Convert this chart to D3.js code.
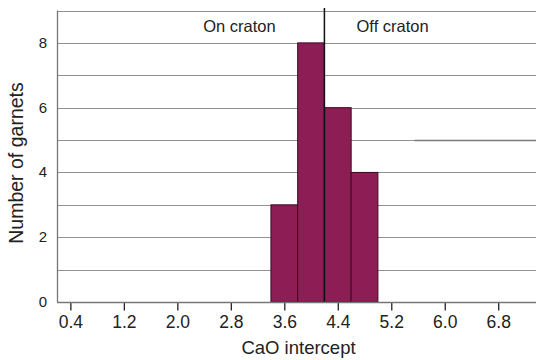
<!DOCTYPE html>
<html>
<head>
<meta charset="utf-8">
<script src="https://cdn.jsdelivr.net/npm/d3@7"></script>
<style>
  body { margin: 0; background: #fff; }
  text { font-family: "Liberation Sans", Arial, sans-serif; fill: #222; }
</style>
</head>
<body>
<svg id="svg" width="536" height="360"></svg>
<script>
// histogram bins of CaO intercept
var binStart = [3.4, 3.8, 4.2, 4.6];
var binEnd   = [3.8, 4.2, 4.6, 5.0];
var counts   = [3, 8, 6, 4];

var xTicks = [0.4, 1.2, 2.0, 2.8, 3.6, 4.4, 5.2, 6.0, 6.8];
var yTicks = [0, 2, 4, 6, 8];
var gridVals = [1, 2, 3, 4, 5, 6, 7, 8, 9];

var cratonLimit = 4.2;
var regionNames = ["On craton", "Off craton"];
var regionCentres = [2.93, 5.22];

var svg = d3.select("#svg");

var margin = { left: 57, right: 1, top: 10.5, bottom: 58 };
var W = +svg.attr("width"), H = +svg.attr("height");

var x = d3.scaleLinear().domain([0.2, 7.35]).range([margin.left, W - margin.right]);
var y = d3.scaleLinear().domain([0, 9]).range([H - margin.bottom, margin.top]);

// horizontal grid lines
svg.append("g").selectAll("line")
  .data(gridVals)
  .join("line")
  .attr("x1", margin.left)
  .attr("x2", W)
  .attr("y1", d => Math.round(y(d)) + 0.5)
  .attr("y2", d => Math.round(y(d)) + 0.5)
  .style("stroke", "#929292")
  .style("stroke-width", 1.2);

// the darker stretch of the 5 line on the right (scan artefact in the original)
svg.append("line")
  .attr("x1", x(5.55)).attr("x2", W)
  .attr("y1", Math.round(y(5)) + 0.5).attr("y2", Math.round(y(5)) + 0.5)
  .style("stroke", "#7a7a7a")
  .style("stroke-width", 1.3);

// bars
var bins = counts.map((c, i) => ({ x0: binStart[i], x1: binEnd[i], n: c }));
svg.append("g").selectAll("rect")
  .data(bins)
  .join("rect")
  .attr("x", d => x(d.x0))
  .attr("y", d => y(d.n))
  .attr("width", d => x(d.x1) - x(d.x0))
  .attr("height", d => y(0) - y(d.n))
  .style("fill", "#8c1d55")
  .style("stroke", "#3d0a22")
  .style("stroke-width", 1);

// on/off craton divider
svg.append("line")
  .attr("x1", x(cratonLimit)).attr("x2", x(cratonLimit))
  .attr("y1", 8).attr("y2", y(0))
  .style("stroke", "#111")
  .style("stroke-width", 1.5);

svg.append("g").selectAll("text")
  .data(regionNames)
  .join("text")
  .attr("x", (d, i) => x(regionCentres[i]))
  .attr("y", 32)
  .attr("text-anchor", "middle")
  .style("font-size", "16.5px")
  .text(d => d);

// axes lines
var xAxis = d3.axisBottom(x).tickValues(xTicks).tickFormat(d3.format(".1f")).tickSize(8).tickSizeOuter(0);
var gx = svg.append("g")
  .attr("transform", "translate(0," + (Math.round(y(0)) + 0.5) + ")")
  .call(xAxis);
gx.select(".domain").remove();
gx.selectAll(".tick line").style("stroke", "#222").style("stroke-width", 1.3);
gx.selectAll(".tick text").attr("dy", 0).attr("y", 25).style("font-size", "17.5px").style("fill", "#222");

svg.append("line")
  .attr("x1", margin.left).attr("x2", W)
  .attr("y1", Math.round(y(0)) + 0.5).attr("y2", Math.round(y(0)) + 0.5)
  .style("stroke", "#777").style("stroke-width", 1.3);
svg.append("line")
  .attr("x1", margin.left + 0.5).attr("x2", margin.left + 0.5)
  .attr("y1", y(9)).attr("y2", y(0))
  .style("stroke", "#777").style("stroke-width", 1.3);

svg.append("g").selectAll("text")
  .data(yTicks)
  .join("text")
  .attr("x", 47)
  .attr("y", d => y(d) + 5)
  .attr("text-anchor", "end")
  .style("font-size", "15px")
  .text(d => d);

// axis titles
svg.append("text")
  .attr("x", (margin.left + W) / 2 + 2)
  .attr("y", 354)
  .attr("text-anchor", "middle")
  .style("font-size", "18.5px")
  .text("CaO intercept");

svg.append("text")
  .attr("transform", "translate(23,163) rotate(-90)")
  .attr("text-anchor", "middle")
  .style("font-size", "19.5px")
  .text("Number of garnets");
</script>
</body>
</html>
